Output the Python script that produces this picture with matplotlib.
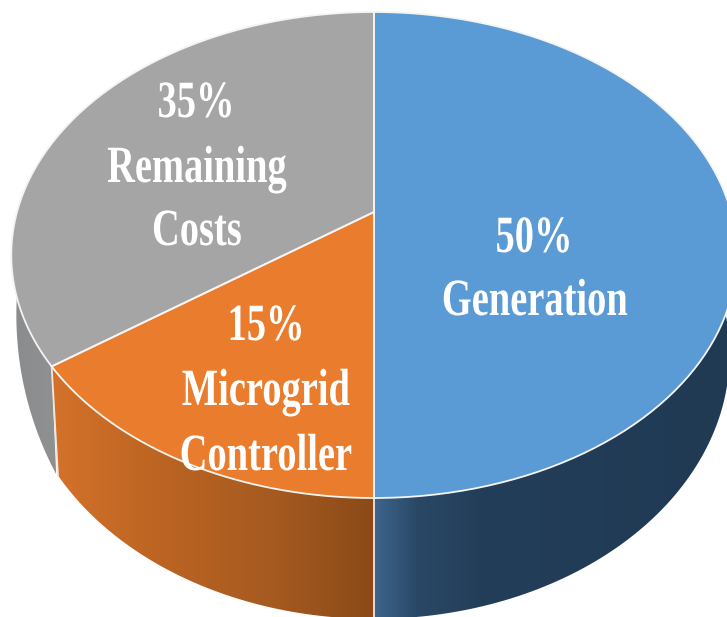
import numpy as np
import matplotlib
matplotlib.use("Agg")
import matplotlib.pyplot as plt
from matplotlib.patheffects import AbstractPathEffect
from matplotlib.patches import Polygon
from matplotlib.transforms import Affine2D
from matplotlib.colors import LinearSegmentedColormap

# ---- data ----
categories = ["Generation", "Microgrid\nController", "Remaining\nCosts"]
values = [50, 15, 35]
top_colors = ["#5B9BD5", "#EA7C2E", "#A5A5A5"]

# ---- geometry of the tilted disc (picture units) ----
CX = 374
TOP = dict(cy=255, a=357, b=243, c=43, k=0.177)
BOT = dict(cy=354, a=350, b=265, c=47, k=0.177)
BOT_LEFT = dict(cy=315, a=352, b=347, c=61.4, k=0.177)   # lower rim of the far-left wall
wall_bottoms = [BOT, BOT, BOT_LEFT]
wall_end = [1.0, 1.0, 0.78]   # hidden part of the back wall is left out


def project(t, g, r=1.0):
    x, y = r * np.sin(t), r * np.cos(t)
    d = 1 + g["k"] * y
    return CX + g["a"] * x / d, g["cy"] - (g["b"] * y + g["c"]) / d


wall_cmaps = [
    LinearSegmentedColormap.from_list("b", [(0, "#3D658E"), (0.12, "#2A4866"), (0.3, "#233E59"), (1, "#203A54")]),
    LinearSegmentedColormap.from_list("o", [(0, "#D5732B"), (0.35, "#BC6423"), (0.7, "#A55A20"), (1, "#8A4A18")]),
    LinearSegmentedColormap.from_list("g", [(0, "#8A8B8D"), (1, "#909193")]),
]
# each wall shades along screen x: [start, end] of its ramp
wall_ramps = [(374, 727), (45, 374), (5, 62)]

fig = plt.figure(figsize=(7.27, 6.17), dpi=100, facecolor="white")
ax = fig.add_axes([0, 0, 1, 1])
ax.set_xlim(0, 727)
ax.set_ylim(617, 0)
ax.axis("off")

fracs = np.cumsum([0] + values) / sum(values)
edges = 2 * np.pi * fracs
ramp = np.linspace(0, 1, 256)[None, :]

# side wall
for i in range(len(values)):
    end = min(edges[i + 1], 2 * np.pi * wall_end[i])
    ts = np.linspace(edges[i], end, 300)
    xa, ya = project(ts, TOP)
    xb, yb = project(ts[::-1], wall_bottoms[i])
    poly = Polygon(np.c_[np.r_[xa, xb], np.r_[ya, yb]], closed=True, transform=ax.transData,
                   facecolor="none", edgecolor="none")
    ax.add_patch(poly)
    x0, x1 = wall_ramps[i]
    im = ax.imshow(ramp, cmap=wall_cmaps[i], extent=(x0, x1, 617, 0), aspect="auto",
                   interpolation="bilinear", zorder=1)
    im.set_clip_path(poly)

ax.set_xlim(0, 727)
ax.set_ylim(617, 0)

# vertical seams of the wall
for e in edges[1:3]:
    xa, ya = project(e, TOP)
    xb, yb = project(e, BOT)
    ax.plot([xa, xb], [ya, yb], color="#F6E6DA", lw=1.3, zorder=2)

# top face
for i in range(len(values)):
    ts = np.linspace(edges[i], edges[i + 1], 200)
    x, y = project(ts, TOP)
    ax0, ay0 = project(0.0, TOP, 0.0)
    ax.fill(np.r_[ax0, x], np.r_[ay0, y], color=top_colors[i], lw=0, zorder=3)
    ax.plot(np.r_[ax0, x, ax0], np.r_[ay0, y, ay0], color="#F4F4F2", lw=1.3, zorder=4,
            solid_joinstyle="round")


class Stretch(AbstractPathEffect):
    """Stretch glyphs about their baseline, as in the squeezed source picture."""
    def __init__(self, sy):
        super().__init__()
        self.sy = sy

    def draw_path(self, renderer, gc, tpath, affine, rgbFace=None):
        renderer.draw_path(gc, tpath, Affine2D().scale(1, self.sy) + affine, rgbFace)


labels = [
    (f"{values[0]}%", 534, 252), (categories[0], 535, 315),
    (f"{values[1]}%", 266, 340), ("Microgrid", 266, 405), ("Controller", 266, 470),
    (f"{values[2]}%", 196, 117), ("Remaining", 197, 182), ("Costs", 197, 245),
]
for s, x, y in labels:
    ax.text(x, y, s, color="white", family="Liberation Serif", weight="bold", fontsize=27.7,
            ha="center", va="baseline", zorder=5, path_effects=[Stretch(1.36)])

fig.savefig("out.png", dpi=100)
